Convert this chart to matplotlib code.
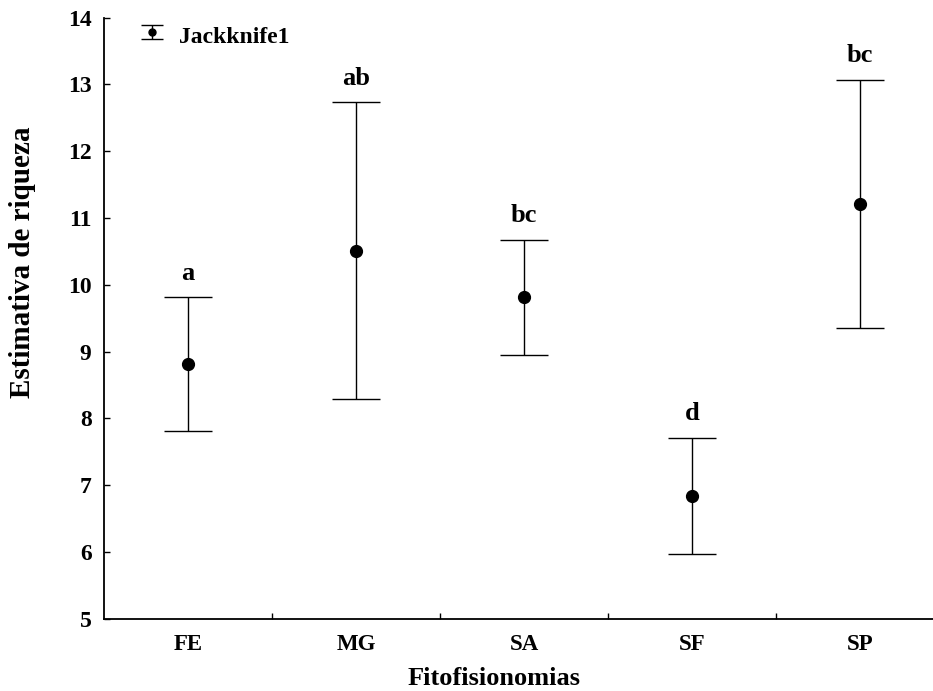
import matplotlib.pyplot as plt
from matplotlib.legend_handler import HandlerErrorbar
import numpy as np

# Jackknife1 richness estimate per phytophysiognomy (mean +/- interval)
grupos = ['FE', 'MG', 'SA', 'SF', 'SP']
media = [8.81, 10.51, 9.81, 6.84, 11.21]
erro = [1.0, 2.22, 0.86, 0.87, 1.86]
letras = ['a', 'ab', 'bc', 'd', 'bc']

plt.rcParams['font.family'] = 'Liberation Serif'
plt.rcParams['font.weight'] = 'bold'


class RaisedErrorbar(HandlerErrorbar):
    # legend symbol sits a little above the text centre
    def create_artists(self, legend, orig_handle, xdescent, ydescent,
                       width, height, fontsize, trans):
        return super().create_artists(legend, orig_handle, xdescent,
                                      ydescent - 4.5, width, height,
                                      fontsize, trans)


fig = plt.figure(figsize=(9.33, 6.91), dpi=100)
ax = fig.add_axes([0.1115, 0.1046, 0.9003, 0.870])

x = np.arange(len(grupos)) + 0.5
ax.errorbar(x, media, yerr=erro, fmt='o', color='black', ecolor='black',
            markersize=8.5, elinewidth=1.0, capsize=17, capthick=1.0)

# smaller copy of the symbol, only for the legend
leg = ax.errorbar([np.nan], [np.nan], yerr=[1], fmt='o', color='black',
                  markersize=5, elinewidth=1.0, capsize=8, capthick=1.0,
                  label='Jackknife1')

for xi, m, e, l in zip(x, media, erro, letras):
    ax.annotate(l, (xi, m + e), xytext=(0, 9), textcoords='offset points',
                ha='center', va='bottom', fontsize=19, fontweight='bold')

ax.set_xlim(0, 5)
ax.set_ylim(5, 14)
ax.set_yticks(range(5, 15))
ax.set_xticks([1, 2, 3, 4])
ax.set_xticklabels([])
ax.set_xticks(x, minor=True)
ax.set_xticklabels(grupos, minor=True)
ax.tick_params(axis='x', which='minor', length=0, pad=11, labelsize=16.5)
ax.tick_params(axis='x', which='major', direction='in', length=4, width=1)
ax.tick_params(axis='y', direction='in', length=4, width=1, pad=9, labelsize=17)

for s in ['top', 'right']:
    ax.spines[s].set_visible(False)
for s in ['left', 'bottom']:
    ax.spines[s].set_linewidth(1.3)

fig.text(494 / 933, (691 - 685) / 691, 'Fitofisionomias', ha='center',
         va='baseline', fontsize=19, fontweight='bold')
fig.text(23 / 933, 1 - 262 / 691, 'Estimativa de riqueza', ha='center',
         va='center', rotation=90, fontsize=21, fontweight='bold')

ax.legend(handles=[leg], loc='upper left', bbox_to_anchor=(0.0175, 1.020),
          frameon=False, handlelength=1.0, handletextpad=0.65,
          handler_map={leg: RaisedErrorbar(yerr_size=0.3)},
          prop={'family': 'Liberation Serif', 'weight': 'bold', 'size': 17})

fig.savefig('out.png', dpi=100)
